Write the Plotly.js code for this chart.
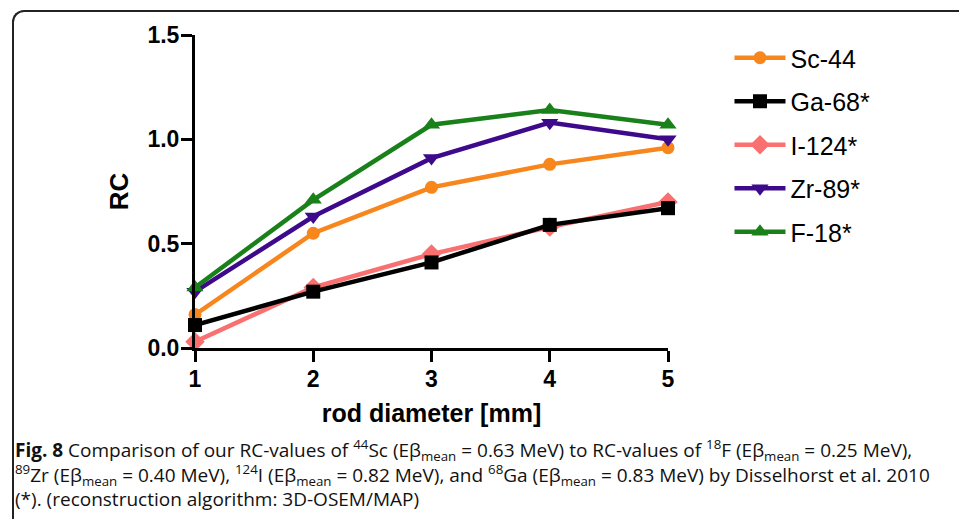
<!DOCTYPE html>
<html>
<head>
<meta charset="utf-8">
<script src="https://cdn.plot.ly/plotly-3.0.1.min.js"></script>
<style>
  html, body { margin:0; padding:0; background:#fff; }
  #wrap { position:relative; width:959px; height:519px; overflow:hidden; }
  #frame { position:absolute; left:12px; top:10px; width:1000px; height:600px;
           border-left:2px solid #222; border-top:2px solid #222; border-top-left-radius:12px; }
  #chart { position:absolute; left:0; top:0; width:959px; height:519px; }
</style>
</head>
<body>
<div id="wrap">
  <div id="frame"></div>
  <div id="chart"></div>
</div>
<script>
const rodDiameter = [1, 2, 3, 4, 5];
const seriesNames = ['Sc-44', 'Ga-68*', 'I-124*', 'Zr-89*', 'F-18*'];
const sc44  = [0.16, 0.55, 0.77, 0.88, 0.96];
const ga68  = [0.11, 0.27, 0.41, 0.59, 0.67];
const i124  = [0.03, 0.29, 0.45, 0.58, 0.70];
const zr89  = [0.27, 0.63, 0.91, 1.08, 1.00];
const f18   = [0.29, 0.71, 1.07, 1.14, 1.07];
const yTicks = [0, 0.5, 1.0, 1.5];
const yTickText = ['0.0', '0.5', '1.0', '1.5'];
const xTicks = [1, 2, 3, 4, 5];
const captionLines = [
  '<b>Fig. 8</b> Comparison of our RC-values of <sup>44</sup>Sc (Eβ<sub>mean</sub> = 0.63 MeV) to RC-values of <sup>18</sup>F (Eβ<sub>mean</sub> = 0.25 MeV),',
  '<sup>89</sup>Zr (Eβ<sub>mean</sub> = 0.40 MeV), <sup>124</sup>I (Eβ<sub>mean</sub> = 0.82 MeV), and <sup>68</sup>Ga (Eβ<sub>mean</sub> = 0.83 MeV) by Disselhorst et al. 2010',
  '(*). (reconstruction algorithm: 3D-OSEM/MAP)'
];

const seriesValues = [sc44, ga68, i124, zr89, f18];
const colors = ['#F7861C', '#000000', '#FA7070', '#3E0A8C', '#19801A'];
const symbols = ['circle', 'square', 'diamond', 'triangle-down', 'triangle-up'];
const sizes = [13, 14, 15, 15, 15];

const drawOrder = [0, 2, 1, 3, 4];
const traces = drawOrder.map(i => ({
  x: rodDiameter, y: seriesValues[i], name: seriesNames[i],
  type: 'scatter', mode: 'lines+markers',
  line: { color: colors[i], width: 4.5 },
  marker: { color: colors[i], symbol: symbols[i], size: sizes[i] },
  cliponaxis: false,
  legendgroup: 'g' + i, legendrank: i + 1
}));

const sansBold = { family: 'Liberation Sans, Arial, sans-serif', size: 23, color: '#000', weight: 'bold' };
const capFont = { family: 'Open Sans, sans-serif', size: 19, color: '#111' };

const layout = {
  width: 959, height: 519,
  margin: { l: 195, r: 291, t: 35, b: 171 },
  paper_bgcolor: 'rgba(0,0,0,0)', plot_bgcolor: 'rgba(0,0,0,0)',
  showlegend: true,
  legend: {
    x: 1.13, y: 1.0, xanchor: 'left', yanchor: 'top',
    font: { family: 'Liberation Sans, Arial, sans-serif', size: 25, color: '#000' },
    traceorder: 'grouped', tracegroupgap: 8, itemwidth: 51
  },
  xaxis: {
    range: [1, 5], tickvals: xTicks, ticktext: xTicks.map(String),
    showgrid: false, zeroline: false, showline: true, linecolor: '#000', linewidth: 3,
    ticks: 'outside', ticklen: 11, tickwidth: 3, tickcolor: '#000',
    ticklabelstandoff: -3,
    tickfont: sansBold,
    title: { text: '<b>rod diameter [mm]</b>', font: { family: 'Liberation Sans, Arial, sans-serif', size: 25, color: '#000' }, standoff: 14 }
  },
  yaxis: {
    range: [0, 1.5], tickvals: yTicks, ticktext: yTickText,
    showgrid: false, zeroline: false, showline: true, linecolor: '#000', linewidth: 3,
    ticks: 'outside', ticklen: 11, tickwidth: 3, tickcolor: '#000',
    ticklabelstandoff: -3,
    tickfont: sansBold,
    title: { text: '<b>RC</b>', font: { family: 'Liberation Sans, Arial, sans-serif', size: 26, color: '#000' }, standoff: 12 }
  },
  annotations: [
    { xref: 'paper', yref: 'paper', x: -0.385, y: -0.27, xanchor: 'left', yanchor: 'top', showarrow: false, align: 'left', font: capFont,
      text: captionLines.join('<br>') }
  ]
};

Plotly.newPlot('chart', traces, layout, { displayModeBar: false, responsive: false });
</script>
</body>
</html>
